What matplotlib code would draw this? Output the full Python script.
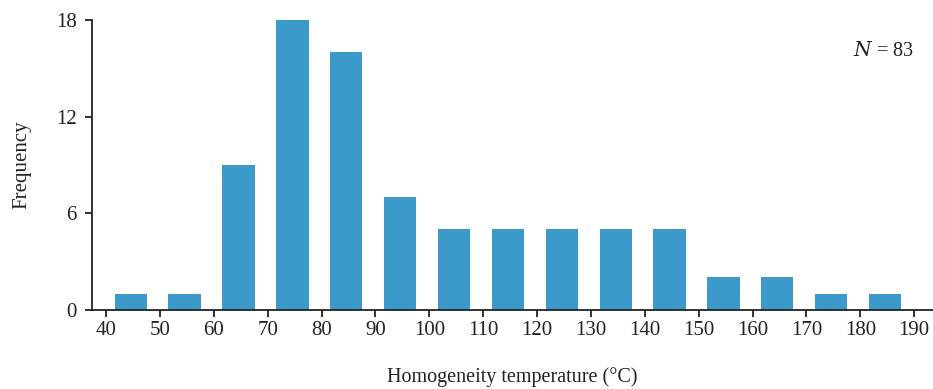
import numpy as np
import matplotlib.pyplot as plt

plt.rcParams['font.family'] = ['Liberation Serif', 'DejaVu Serif']

bin_starts = [40, 50, 60, 70, 80, 90, 100, 110, 120, 130, 140, 150, 160, 170, 180]
counts = [1, 1, 9, 18, 16, 7, 5, 5, 5, 5, 5, 2, 2, 1, 1]
xticks = list(range(40, 200, 10))
yticks = [0, 6, 12, 18]

fig = plt.figure(figsize=(9.33, 3.89), dpi=100)
ax = fig.add_axes([0.0986, 0.204, 0.9014, 0.7446])

ax.bar(np.array(bin_starts) + 1.6, counts, width=6.0, align='edge',
       color='#3c9acb', edgecolor='none')

ax.set_xlim(37.4, 193.5)
ax.set_ylim(0, 18)
ax.set_xticks(xticks)
ax.set_yticks(yticks)
ax.spines['top'].set_visible(False)
ax.spines['right'].set_visible(False)
for s in ('left', 'bottom'):
    ax.spines[s].set_linewidth(1.3)
    ax.spines[s].set_color('#222222')
ax.tick_params(axis='both', labelsize=15, colors='#222222', width=1.3,
               length=5, direction='out')
ax.tick_params(axis='y', pad=6)

ax.set_xlabel('Homogeneity temperature (°C)', fontsize=14.5, color='#222222',
              labelpad=19)
ax.set_ylabel('Frequency', fontsize=15, color='#222222', labelpad=18)

ax.text(0.977, 0.89, r'$N$ = 83', transform=ax.transAxes, ha='right',
        va='center', fontsize=14.5, color='#222222',
        math_fontfamily='dejavuserif')

fig.savefig('out.png', dpi=100)
